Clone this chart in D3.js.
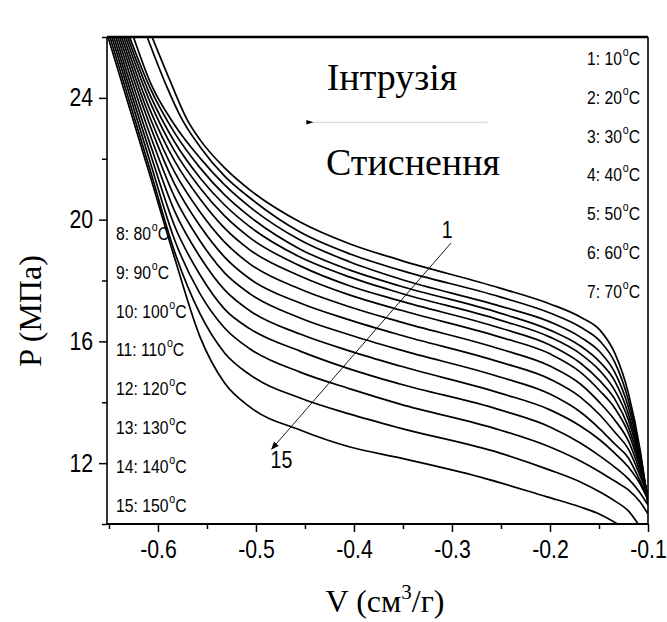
<!DOCTYPE html>
<html>
<head>
<meta charset="utf-8">
<script src="https://cdn.jsdelivr.net/npm/d3@7"></script>
<style>
  body { margin: 0; background: #fff; }
  svg { display: block; }
</style>
</head>
<body>
<svg width="667" height="622"></svg>
<script>
// temperatures of the 15 curves
const temps = [10, 20, 30, 40, 50, 60, 70, 80, 90, 100, 110, 120, 130, 140, 150];

const xTicks = [-0.6, -0.5, -0.4, -0.3, -0.2, -0.1];
const xMinor = [-0.65, -0.55, -0.45, -0.35, -0.25, -0.15];
const yTicks = [12, 16, 20, 24];
const yMinor = [10, 14, 18, 22, 26];

// [V, P]
const c1 = [[-0.606,26],[-0.588,24.59],[-0.570,23.27],[-0.557,22.62],[-0.532,21.70],[-0.506,20.97],[-0.455,19.92],[-0.404,19.20],[-0.353,18.67],[-0.251,17.75],[-0.200,17.23],[-0.169,16.80],[-0.149,16.37],[-0.134,15.62],[-0.120,14.30],[-0.108,12.43],[-0.100,10.62]];
const c2 = [[-0.611,26],[-0.593,24.52],[-0.575,23.27],[-0.557,22.39],[-0.532,21.43],[-0.506,20.71],[-0.455,19.59],[-0.404,18.87],[-0.353,18.34],[-0.251,17.46],[-0.200,16.93],[-0.169,16.47],[-0.149,16.01],[-0.134,15.32],[-0.120,14.07],[-0.108,12.33],[-0.100,10.69]];
const c3 = [[-0.625,26],[-0.608,24.52],[-0.583,23.11],[-0.557,22.02],[-0.532,21.14],[-0.506,20.41],[-0.455,19.33],[-0.404,18.61],[-0.353,18.05],[-0.251,17.16],[-0.200,16.64],[-0.169,16.14],[-0.149,15.65],[-0.134,14.99],[-0.120,13.84],[-0.108,12.23],[-0.100,10.76]];
const c4 = [[-0.629,26],[-0.608,24.32],[-0.583,22.85],[-0.557,21.70],[-0.532,20.81],[-0.506,20.09],[-0.455,19.03],[-0.404,18.34],[-0.353,17.82],[-0.251,16.93],[-0.200,16.37],[-0.169,15.85],[-0.149,15.32],[-0.134,14.70],[-0.120,13.61],[-0.108,12.14],[-0.100,10.82]];
const c5 = [[-0.631,26],[-0.608,24.09],[-0.583,22.55],[-0.557,21.37],[-0.532,20.48],[-0.506,19.76],[-0.455,18.77],[-0.404,18.11],[-0.353,17.59],[-0.251,16.70],[-0.200,16.14],[-0.169,15.59],[-0.149,15.03],[-0.134,14.40],[-0.120,13.42],[-0.108,12.04],[-0.100,10.89]];
const c6 = [[-0.633,26],[-0.608,23.86],[-0.583,22.25],[-0.557,21.04],[-0.532,20.12],[-0.506,19.40],[-0.455,18.48],[-0.404,17.82],[-0.353,17.33],[-0.251,16.44],[-0.200,15.88],[-0.169,15.29],[-0.149,14.70],[-0.134,14.11],[-0.120,13.19],[-0.108,11.94],[-0.100,10.92]];
const c7 = [[-0.635,26],[-0.608,23.60],[-0.583,21.93],[-0.557,20.68],[-0.532,19.72],[-0.506,19.00],[-0.455,18.15],[-0.404,17.52],[-0.353,17.03],[-0.251,16.14],[-0.200,15.59],[-0.169,14.99],[-0.149,14.37],[-0.134,13.81],[-0.120,12.99],[-0.108,11.84],[-0.100,10.95]];
const c8 = [[-0.637,26],[-0.608,23.34],[-0.583,21.56],[-0.557,20.25],[-0.532,19.26],[-0.506,18.54],[-0.455,17.72],[-0.404,17.13],[-0.353,16.64],[-0.251,15.75],[-0.200,15.19],[-0.169,14.60],[-0.149,13.98],[-0.134,13.42],[-0.120,12.73],[-0.108,11.71],[-0.100,10.95]];
const c9 = [[-0.639,26],[-0.608,23.08],[-0.583,21.17],[-0.557,19.79],[-0.532,18.77],[-0.506,18.05],[-0.455,17.26],[-0.404,16.70],[-0.353,16.21],[-0.251,15.32],[-0.200,14.76],[-0.169,14.17],[-0.149,13.58],[-0.134,13.02],[-0.120,12.46],[-0.108,11.58],[-0.100,10.92]];
const c10 = [[-0.641,26],[-0.608,22.78],[-0.583,20.74],[-0.557,19.30],[-0.532,18.25],[-0.506,17.56],[-0.455,16.77],[-0.404,16.21],[-0.353,15.72],[-0.251,14.83],[-0.200,14.27],[-0.169,13.68],[-0.149,13.12],[-0.134,12.63],[-0.120,12.17],[-0.108,11.41],[-0.100,10.85]];
const c11 = [[-0.643,26],[-0.608,22.48],[-0.583,20.28],[-0.557,18.77],[-0.532,17.69],[-0.506,17.00],[-0.455,16.24],[-0.404,15.68],[-0.353,15.19],[-0.251,14.30],[-0.200,13.75],[-0.169,13.22],[-0.149,12.76],[-0.134,12.33],[-0.120,11.87],[-0.108,11.31],[-0.100,10.79]];
const c12 = [[-0.645,26],[-0.608,22.19],[-0.583,19.79],[-0.557,18.18],[-0.532,17.06],[-0.506,16.41],[-0.455,15.68],[-0.404,15.09],[-0.353,14.60],[-0.251,13.75],[-0.200,13.19],[-0.169,12.66],[-0.149,12.23],[-0.134,11.87],[-0.120,11.48],[-0.108,11.02],[-0.100,10.62]];
const c13 = [[-0.647,26],[-0.608,21.89],[-0.583,19.33],[-0.557,17.56],[-0.532,16.44],[-0.506,15.75],[-0.455,14.99],[-0.404,14.44],[-0.353,13.94],[-0.251,13.09],[-0.200,12.53],[-0.169,12.07],[-0.149,11.71],[-0.134,11.41],[-0.120,11.12],[-0.108,10.72],[-0.100,10.33]];
const c14 = [[-0.649,26],[-0.608,21.63],[-0.583,18.94],[-0.557,16.90],[-0.532,15.62],[-0.506,14.90],[-0.455,14.14],[-0.404,13.61],[-0.353,13.15],[-0.251,12.33],[-0.200,11.77],[-0.169,11.38],[-0.149,11.05],[-0.134,10.76],[-0.120,10.43],[-0.110,10.00]];
const c15 = [[-0.651,26],[-0.608,21.43],[-0.583,18.74],[-0.557,16.14],[-0.532,14.63],[-0.506,13.84],[-0.455,13.09],[-0.404,12.53],[-0.353,12.17],[-0.271,11.54],[-0.203,10.89],[-0.169,10.56],[-0.152,10.36],[-0.131,10.00]];

const curves = [c1, c2, c3, c4, c5, c6, c7, c8, c9, c10, c11, c12, c13, c14, c15];

const W = 667, H = 622;
const margin = { top: 37, right: 19, bottom: 98, left: 107 };
const width = W - margin.left - margin.right;
const height = H - margin.top - margin.bottom;

const sans = "'Liberation Sans', Arial, sans-serif";
const serif = "'Liberation Serif', 'Times New Roman', serif";
const narrow = 0.85; // the reference uses a condensed sans face

const svg = d3.select('svg');
svg.append('rect').attr('width', W).attr('height', H).attr('fill', '#fff');

const x = d3.scaleLinear().domain([-0.652, -0.1]).range([margin.left, margin.left + width]);
const y = d3.scaleLinear().domain([10, 26]).range([margin.top + height, margin.top]);

svg.append('clipPath').attr('id', 'plot')
	.append('rect').attr('x', margin.left).attr('y', margin.top).attr('width', width).attr('height', height);

const line = d3.line().x((d) => x(d[0])).y((d) => y(d[1])).curve(d3.curveMonotoneX);

svg.append('g').attr('clip-path', 'url(#plot)')
	.selectAll('path')
	.data(curves)
	.enter()
	.append('path')
	.attr('d', line)
	.attr('fill', 'none')
	.attr('stroke', '#000')
	.attr('stroke-width', 1.7);

// axes
const fmt = (d) => d.toFixed(1);
svg.append('g').attr('transform', `translate(0, ${margin.top + height})`)
	.call(d3.axisBottom(x).tickValues(xTicks).tickFormat(fmt).tickSize(8).tickSizeOuter(0).tickPadding(8));
svg.append('g').attr('transform', `translate(0, ${margin.top + height})`)
	.call(d3.axisBottom(x).tickValues(xMinor).tickFormat('').tickSize(5).tickSizeOuter(0));
const yAxis = svg.append('g').attr('transform', `translate(${margin.left}, 0)`)
	.call(d3.axisLeft(y).tickValues(yTicks).tickSize(8).tickSizeOuter(0).tickPadding(6));
svg.append('g').attr('transform', `translate(${margin.left}, 0)`)
	.call(d3.axisLeft(y).tickValues(yMinor).tickFormat('').tickSize(5).tickSizeOuter(0));

svg.selectAll('.domain').remove();
svg.selectAll('.tick line').attr('stroke', '#000').attr('stroke-width', 1.5);
svg.selectAll('.tick text').attr('fill', '#000').attr('font-family', sans).attr('font-size', 25)
	.attr('transform', `scale(${narrow}, 1)`);
yAxis.selectAll('.tick text').attr('x', -14 / narrow);

// frame
svg.append('line').attr('x1', margin.left).attr('x2', margin.left + width).attr('y1', margin.top).attr('y2', margin.top)
	.attr('stroke', '#000').attr('stroke-width', 2.5);
svg.append('line').attr('x1', margin.left).attr('x2', margin.left + width).attr('y1', margin.top + height).attr('y2', margin.top + height)
	.attr('stroke', '#000').attr('stroke-width', 2.2);
svg.append('line').attr('x1', margin.left).attr('x2', margin.left).attr('y1', margin.top).attr('y2', margin.top + height)
	.attr('stroke', '#000').attr('stroke-width', 1.6);
svg.append('line').attr('x1', margin.left + width).attr('x2', margin.left + width).attr('y1', margin.top).attr('y2', margin.top + height)
	.attr('stroke', '#000').attr('stroke-width', 1.6);

// axis titles
svg.append('text')
	.attr('transform', 'translate(41, 311) rotate(-90)')
	.attr('text-anchor', 'middle')
	.attr('font-family', serif)
	.attr('font-size', 32)
	.text('P (МПа)');

const xt = svg.append('text')
	.attr('x', 385).attr('y', 612)
	.attr('text-anchor', 'middle')
	.attr('font-family', serif)
	.attr('font-size', 32);
xt.append('tspan').text('V (см');
xt.append('tspan').attr('dy', -13).attr('font-size', 21).text('3');
xt.append('tspan').attr('dy', 13).text('/г)');

// temperature legend
function tempLabel (g, i, px, py) {
	const t = g.append('g').attr('transform', `translate(${px}, ${py}) scale(${narrow}, 1)`)
		.append('text')
		.attr('font-family', sans).attr('font-size', 18.5).attr('fill', '#000');
	t.append('tspan').text(`${i + 1}: ${temps[i]}`);
	t.append('tspan').attr('dy', -9).attr('dx', 1).attr('font-size', 12.5).text('o');
	t.append('tspan').attr('dy', 9).text('C');
}
const leg = svg.append('g');
for (let i = 0; i < 7; i++) tempLabel(leg, i, 587, 65 + i * 38.8);
for (let i = 7; i < 15; i++) tempLabel(leg, i, 116, 240 + (i - 7) * 38.8);

// annotations
svg.append('defs').html(
	'<marker id="ah" viewBox="0 0 10 10" refX="9" refY="5" markerWidth="9" markerHeight="9" orient="auto-start-reverse">' +
	'<path d="M0,1 L10,5 L0,9 z" fill="#000"/></marker>' +
	'<marker id="ah2" viewBox="0 0 10 10" refX="1" refY="5" markerWidth="10" markerHeight="6" orient="auto-start-reverse">' +
	'<path d="M0,5 L10,2 L10,8 z" fill="#000"/></marker>'
);

svg.append('text').attr('x', 392).attr('y', 90).attr('text-anchor', 'middle')
	.attr('font-family', serif).attr('font-size', 38).text('Інтрузія');
svg.append('text').attr('x', 413).attr('y', 175).attr('text-anchor', 'middle')
	.attr('font-family', serif).attr('font-size', 38).text('Стиснення');

svg.append('line')
	.attr('x1', x(-0.442)).attr('y1', y(23.2)).attr('x2', x(-0.264)).attr('y2', y(23.2))
	.attr('stroke', '#d0d0d0').attr('stroke-width', 1.2)
	.attr('marker-start', 'url(#ah2)');

svg.append('line')
	.attr('x1', x(-0.301)).attr('y1', y(19.23)).attr('x2', x(-0.484)).attr('y2', y(12.46))
	.attr('stroke', '#000').attr('stroke-width', 0.9)
	.attr('marker-end', 'url(#ah)');

function numLabel (v, p, s) {
	svg.append('g').attr('transform', `translate(${x(v)}, ${y(p)}) scale(${narrow}, 1)`)
		.append('text').attr('text-anchor', 'middle')
		.attr('font-family', sans).attr('font-size', 23).text(s);
}
numLabel(-0.305, 19.4, '1');
numLabel(-0.474, 11.84, '15');
</script>
</body>
</html>
